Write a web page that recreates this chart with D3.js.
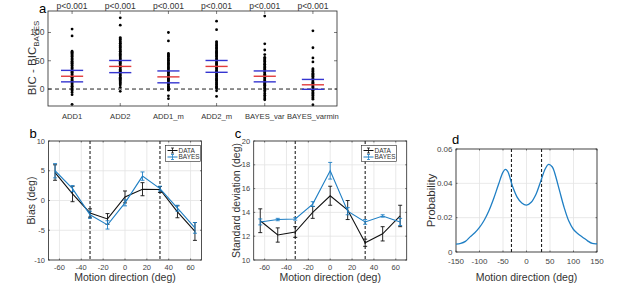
<!DOCTYPE html>
<html>
<head>
<meta charset="utf-8">
<script src="https://cdn.jsdelivr.net/npm/d3@7"></script>
<style>
body { margin: 0; background: #fff; }
text { font-family: "Liberation Sans", Arial, sans-serif; fill: #333; }
</style>
</head>
<body>
<svg id="fig" width="617" height="283"></svg>
<script>
// ---- panel a: BIC differences per model ----
const models = ["ADD1", "ADD2", "ADD1_m", "ADD2_m", "BAYES_var", "BAYES_varmin"];
const pLabels = ["p<0.001", "p<0.001", "p<0.001", "p<0.001", "p<0.001", "p<0.001"];
const dotsADD1 = [106, 94, 67, 65, 63.5, 61, 59, 57.5, 55, 53, 51.5, 49, 47, 45.5, 43, 41.5, 39, 37, 35.5, 33, 31, 29.5, 27, 25.5, 23, 21, 19.5, 17, 15, 13.5, 11, 9.5, 7, 5, 3.5, 1, -1, -3, -6, -10, -27];
const dotsADD2 = [126, 113, 91, 89, 87.5, 85, 83, 81, 79.5, 77, 75, 73.5, 71, 69, 67, 65.5, 63, 61, 59.5, 57, 55, 53, 51.5, 49, 47, 45.5, 43, 41, 39, 37.5, 35, 33, 31.5, 29, 27, 25, 23.5, 21, 19, 17.5, 15, 13, 11, 9.5, 7, 3, -4];
const dotsADD1m = [100, 85, 63, 61, 59, 57.5, 55, 53, 51, 49.5, 47, 45, 43.5, 41, 39, 37, 35.5, 33, 31, 29.5, 27, 25, 23, 21.5, 19, 17, 15.5, 13, 11, 9, 7.5, 5, 3, 1.5, -1, -2, -12, -17];
const dotsADD2m = [120, 105, 84, 82, 79.5, 77.5, 75, 73, 71.5, 69, 67, 65, 63.5, 61, 59, 57.5, 55, 53, 51, 49.5, 47, 45, 43.5, 41, 39, 37, 35.5, 33, 31, 29.5, 27, 25, 23, 21.5, 19, 17, 15.5, 13, 11, 9, 7.5, 5, 3, 1, -3, -13];
const dotsBAYESvar = [129, 80, 69, 61, 56, 54, 52, 50, 48.5, 46, 44, 42.5, 40, 38, 36, 34.5, 32, 30, 28.5, 26, 24, 22, 20.5, 18, 16, 14.5, 12, 10, 8, 6.5, 4, 2, 0.5, -2, -5, -8, -11, -14, -17, -19];
const dotsBAYESvarmin = [103, 73, 55, 48, 36, 34, 32, 30.5, 28, 26, 24, 22.5, 20, 18, 16.5, 14, 12, 10, 8.5, 6, 4, 2.5, 0, -2, -3.5, -6, -8, -10, -11.5, -14, -16, -18, -28];
const q1 = [12.7, 29, 11, 29.6, 12.7, -0.5];
const medians = [22.6, 40, 21.5, 40, 22.6, 7.5];
const q3 = [33, 50.5, 32, 50.5, 32, 17];
const aTicks = [0, 50, 100];

// ---- panels b, c: bias and standard deviation ----
const directions = [-64, -48, -32, -16, 0, 16, 32, 48, 64];
const biasData = [4.7, 1.1, -2.1, -3.1, 0.6, 1.9, 1.85, -1.9, -5.2];
const biasDataErr = [1.3, 1.3, 0.7, 0.9, 1.0, 1.1, 0.5, 1.0, 1.5];
const biasBayes = [5.0, 2.0, -2.4, -4.1, -0.4, 4.1, 2.0, -1.3, -4.6];
const biasBayesErr = [1.2, 0.5, 0.6, 0.7, 0.5, 0.7, 0.4, 0.5, 0.9];
const sdData = [13.3, 12.1, 12.35, 14.0, 15.4, 14.2, 11.45, 12.2, 13.7];
const sdDataErr = [1.0, 0.6, 0.45, 0.5, 0.8, 0.8, 0.3, 0.6, 0.9];
const sdBayes = [13.2, 13.4, 13.45, 14.7, 17.5, 14.1, 13.2, 13.7, 13.2];
const sdBayesErr = [0.25, 0.1, 0.1, 0.2, 0.7, 0.3, 0.2, 0.1, 0.3];
const dirTicks = [-60, -40, -20, 0, 20, 40, 60];
const biasTicks = [-10, -5, 0, 5, 10];
const sdTicks = [10, 12, 14, 16, 18, 20];
const boundaries = [-32, 32];
const legendNames = ["DATA", "BAYES"];

// ---- panel d: prior over motion direction ----
const priorX = [-150, -140, -130, -120, -110, -100, -90, -80, -70, -60, -50, -45, -40, -30, -20, -10, 0, 10, 20, 30, 40, 47, 55, 60, 70, 80, 90, 100, 110, 120, 130, 140, 150];
const priorY = [0.0046, 0.005, 0.0062, 0.0088, 0.0112, 0.0143, 0.0185, 0.024, 0.031, 0.039, 0.0465, 0.0481, 0.047, 0.0385, 0.032, 0.0285, 0.0273, 0.029, 0.0335, 0.041, 0.0485, 0.051, 0.0495, 0.046, 0.036, 0.026, 0.018, 0.0131, 0.0105, 0.0085, 0.0065, 0.005, 0.0048];
const priorXTicks = [-150, -100, -50, 0, 50, 100, 150];
const priorYTicks = [0, 0.02, 0.04, 0.06];

const blue = "#1f7fc4";
const frameColor = "#262626";
const svg = d3.select("#fig");

function frame(g, x, y, xt, yt, opts) {
  const [x0, x1] = x.range();
  const [y1, y0] = y.range();
  const tl = opts.tick || 2;
  if (opts.grid) {
    g.selectAll(null).data(xt).enter().append("line")
      .attr("x1", d => x(d)).attr("x2", d => x(d)).attr("y1", y0).attr("y2", y1)
      .attr("stroke", "#e3e3e3").attr("stroke-width", 0.8);
    g.selectAll(null).data(yt).enter().append("line")
      .attr("y1", d => y(d)).attr("y2", d => y(d)).attr("x1", x0).attr("x2", x1)
      .attr("stroke", "#e3e3e3").attr("stroke-width", 0.8);
  }
  const ticks = g.append("g").attr("stroke", frameColor).attr("stroke-width", 0.6);
  xt.forEach(d => {
    ticks.append("line").attr("x1", x(d)).attr("x2", x(d)).attr("y1", y1).attr("y2", y1 - tl);
    ticks.append("line").attr("x1", x(d)).attr("x2", x(d)).attr("y1", y0).attr("y2", y0 + tl);
  });
  yt.forEach(d => {
    ticks.append("line").attr("y1", y(d)).attr("y2", y(d)).attr("x1", x0).attr("x2", x0 + tl);
    ticks.append("line").attr("y1", y(d)).attr("y2", y(d)).attr("x1", x1).attr("x2", x1 - tl);
  });
  g.append("rect").attr("x", x0).attr("y", y0).attr("width", x1 - x0).attr("height", y1 - y0)
    .attr("fill", "none").attr("stroke", frameColor).attr("stroke-width", 0.8);
  const fs = opts.fs || 8;
  g.selectAll(null).data(yt).enter().append("text")
    .attr("x", x0 - 3.5).attr("y", d => y(d)).attr("dy", "0.35em")
    .attr("text-anchor", "end").attr("font-size", fs).style("fill", "#444")
    .text(opts.yfmt || (d => d));
  if (opts.xlabels !== false) {
    g.selectAll(null).data(xt).enter().append("text")
      .attr("x", d => x(d)).attr("y", y1 + fs + (opts.xgap || 2))
      .attr("text-anchor", "middle").attr("font-size", fs).style("fill", "#444")
      .text(d => d);
  }
}

// ================= panel a =================
{
  const g = svg.append("g");
  const x = d3.scaleLinear().domain([0.5, 6.5]).range([48, 337]);
  const y = d3.scaleLinear().domain([-30, 138]).range([106, 11]);
  const allDots = [dotsADD1, dotsADD2, dotsADD1m, dotsADD2m, dotsBAYESvar, dotsBAYESvarmin];
  g.append("line").attr("x1", 48).attr("x2", 337).attr("y1", y(0)).attr("y2", y(0))
    .attr("stroke", "#222").attr("stroke-width", 1).attr("stroke-dasharray", "4,3");
  allDots.forEach((vals, i) => {
    g.selectAll(null).data(vals).enter().append("circle")
      .attr("cx", x(i + 1)).attr("cy", d => y(d)).attr("r", 1.4).attr("fill", "#000");
  });
  const half = 0.23;
  [[q1, "#3535d0"], [q3, "#3535d0"], [medians, "#e23b3b"]].forEach(([arr, col]) => {
    g.selectAll(null).data(arr).enter().append("line")
      .attr("x1", (d, i) => x(i + 1 - half)).attr("x2", (d, i) => x(i + 1 + half))
      .attr("y1", d => y(d)).attr("y2", d => y(d))
      .attr("stroke", col).attr("stroke-width", 1.4);
  });
  frame(g, x, y, [1, 2, 3, 4, 5, 6], aTicks, { tick: 3, fs: 8.5, xlabels: false });
  g.selectAll(null).data(models).enter().append("text")
    .attr("x", (d, i) => x(i + 1)).attr("y", 118.5).attr("text-anchor", "middle")
    .attr("font-size", 7.6).text(d => d);
  g.selectAll(null).data(pLabels).enter().append("text")
    .attr("x", (d, i) => x(i + 1)).attr("y", 8.5).attr("text-anchor", "middle")
    .attr("font-size", 8.5).text(d => d);
  const yl = g.append("text").attr("transform", "translate(36,58) rotate(-90)")
    .attr("text-anchor", "middle").attr("font-size", 11.5);
  yl.append("tspan").text("BIC - BIC");
  yl.append("tspan").attr("font-size", 8).attr("dy", 3).text("BAYES");
  g.append("text").attr("x", 39).attr("y", 12.5).attr("font-size", 13).style("fill", "#000").text("a");
}

// ================= panels b and c =================
function errorPanel(box, ydom, yt, dataV, dataE, bayesV, bayesE, ylabel, letter, legendX) {
  const g = svg.append("g");
  const x = d3.scaleLinear().domain([-70, 70]).range([box.left, box.right]);
  const y = d3.scaleLinear().domain(ydom).range([box.bottom, box.top]);
  frame(g, x, y, dirTicks, yt, { grid: true, tick: 1.5, fs: 7.5 });
  boundaries.forEach(b => {
    g.append("line").attr("x1", x(b)).attr("x2", x(b)).attr("y1", box.top).attr("y2", box.bottom)
      .attr("stroke", "#222").attr("stroke-width", 1.1).attr("stroke-dasharray", "3,2");
  });
  const series = [[dataV, dataE, "#111"], [bayesV, bayesE, blue]];
  series.forEach(([vals, errs, col]) => {
    const line = d3.line().x((d, i) => x(directions[i])).y(d => y(d));
    g.append("path").datum(vals).attr("d", line).attr("fill", "none")
      .attr("stroke", col).attr("stroke-width", 1.1);
    vals.forEach((v, i) => {
      const cx = x(directions[i]);
      const e = g.append("g").attr("stroke", col).attr("stroke-width", 0.9);
      e.append("line").attr("x1", cx).attr("x2", cx).attr("y1", y(v - errs[i])).attr("y2", y(v + errs[i]));
      e.append("line").attr("x1", cx - 2).attr("x2", cx + 2).attr("y1", y(v - errs[i])).attr("y2", y(v - errs[i]));
      e.append("line").attr("x1", cx - 2).attr("x2", cx + 2).attr("y1", y(v + errs[i])).attr("y2", y(v + errs[i]));
    });
  });
  // legend
  const lg = g.append("g").attr("transform", `translate(${legendX},${box.top + 4.5})`);
  lg.append("rect").attr("width", 35).attr("height", 16).attr("fill", "#fff")
    .attr("stroke", frameColor).attr("stroke-width", 0.6);
  legendNames.forEach((name, i) => {
    const col = i === 0 ? "#111" : blue;
    const ly = 5 + i * 6.5;
    lg.append("line").attr("x1", 2).attr("x2", 12).attr("y1", ly).attr("y2", ly).attr("stroke", col).attr("stroke-width", 1);
    lg.append("line").attr("x1", 7).attr("x2", 7).attr("y1", ly - 2.5).attr("y2", ly + 2.5).attr("stroke", col).attr("stroke-width", 0.8);
    lg.append("line").attr("x1", 5.5).attr("x2", 8.5).attr("y1", ly - 2.5).attr("y2", ly - 2.5).attr("stroke", col).attr("stroke-width", 0.8);
    lg.append("line").attr("x1", 5.5).attr("x2", 8.5).attr("y1", ly + 2.5).attr("y2", ly + 2.5).attr("stroke", col).attr("stroke-width", 0.8);
    lg.append("text").attr("x", 13).attr("y", ly).attr("dy", "0.35em").attr("font-size", 6.5).text(name);
  });
  g.append("text").attr("x", (box.left + box.right) / 2).attr("y", 281)
    .attr("text-anchor", "middle").attr("font-size", 10.5).text("Motion direction (deg)");
  g.append("text").attr("transform", `translate(${box.left - 14},${(box.top + box.bottom) / 2}) rotate(-90)`)
    .attr("text-anchor", "middle").attr("font-size", 10.5).text(ylabel);
  g.append("text").attr("x", box.left - 19).attr("y", box.top - 3).attr("font-size", 13)
    .style("fill", "#000").text(letter);
}

errorPanel({ left: 48.5, right: 201.5, top: 141, bottom: 260 }, [-10, 10], biasTicks,
  biasData, biasDataErr, biasBayes, biasBayesErr, "Bias (deg)", "b", 165.5);
errorPanel({ left: 253.7, right: 406.7, top: 141, bottom: 260 }, [10, 20], sdTicks,
  sdData, sdDataErr, sdBayes, sdBayesErr, "Standard deviation (deg)", "c", 361.5);

// ================= panel d =================
{
  const g = svg.append("g");
  const box = { left: 456, right: 597, top: 149, bottom: 252 };
  const x = d3.scaleLinear().domain([-150, 150]).range([box.left, box.right]);
  const y = d3.scaleLinear().domain([0, 0.06]).range([box.bottom, box.top]);
  frame(g, x, y, priorXTicks, priorYTicks, { grid: true, tick: 1.5, fs: 8, xgap: 3.5, yfmt: d => d === 0 ? "0" : d.toFixed(2) });
  boundaries.forEach(b => {
    g.append("line").attr("x1", x(b)).attr("x2", x(b)).attr("y1", box.top).attr("y2", box.bottom)
      .attr("stroke", "#222").attr("stroke-width", 1.1).attr("stroke-dasharray", "3,2");
  });
  const line = d3.line().x((d, i) => x(priorX[i])).y(d => y(d)).curve(d3.curveCatmullRom);
  g.append("path").datum(priorY).attr("d", line).attr("fill", "none")
    .attr("stroke", blue).attr("stroke-width", 1.3);
  g.append("text").attr("x", (box.left + box.right) / 2).attr("y", 281)
    .attr("text-anchor", "middle").attr("font-size", 10.5).text("Motion direction (deg)");
  g.append("text").attr("transform", `translate(${box.left - 21},${(box.top + box.bottom) / 2}) rotate(-90)`)
    .attr("text-anchor", "middle").attr("font-size", 11.5).text("Probability");
  g.append("text").attr("x", box.left - 4).attr("y", 144).attr("font-size", 13)
    .style("fill", "#000").text("d");
}
</script>
</body>
</html>
